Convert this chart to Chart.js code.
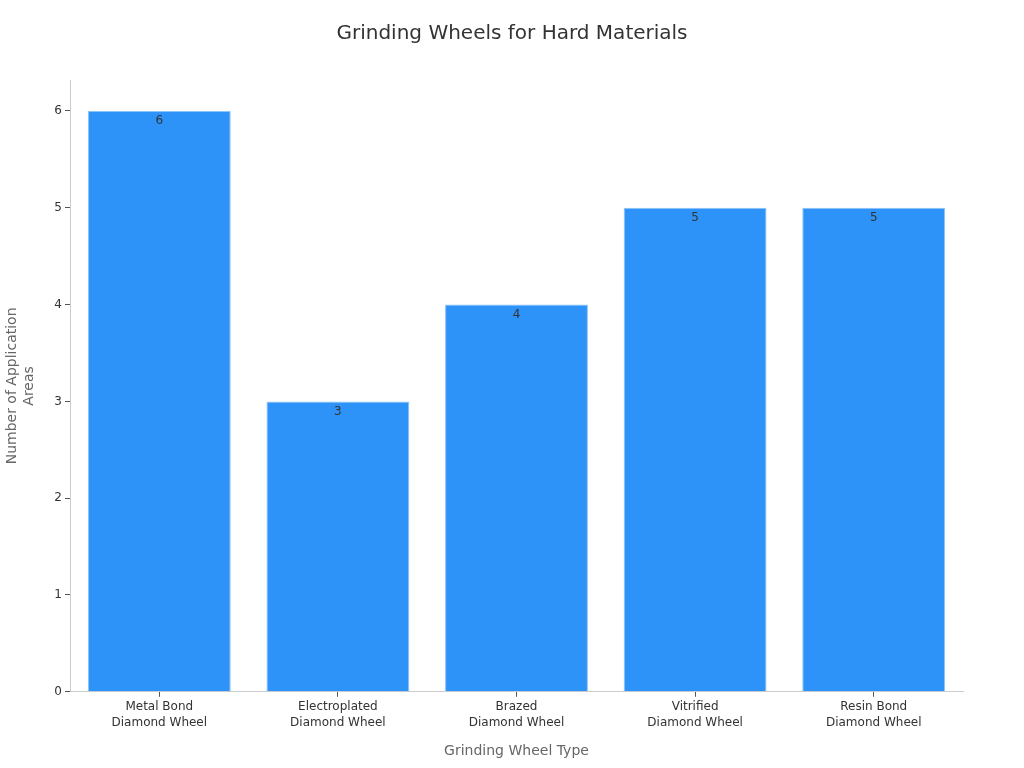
<!DOCTYPE html>
<html>
<head>
<meta charset="utf-8">
<script src="https://cdn.jsdelivr.net/npm/chart.js@4.4.0/dist/chart.umd.min.js"></script>
<style>
  html, body { margin: 0; padding: 0; background: #fff; }
  #wrap { width: 1024px; height: 768px; }
</style>
</head>
<body>
<div id="wrap"><canvas id="chart" width="1024" height="768"></canvas></div>
<script>
// data
const wheelTypes = [
  ['Metal Bond', 'Diamond Wheel'],
  ['Electroplated', 'Diamond Wheel'],
  ['Brazed', 'Diamond Wheel'],
  ['Vitrified', 'Diamond Wheel'],
  ['Resin Bond', 'Diamond Wheel']
];
const applicationAreas = [6, 3, 4, 5, 5];
const yTicks = [0, 1, 2, 3, 4, 5, 6];

const FONT = "'DejaVu Sans', sans-serif";

// value labels just inside the top of each bar
const barLabels = {
  id: 'barLabels',
  afterDatasetsDraw(chart) {
    const ctx = chart.ctx;
    const meta = chart.getDatasetMeta(0);
    ctx.save();
    ctx.font = '12px ' + FONT;
    ctx.fillStyle = '#333';
    ctx.textAlign = 'center';
    ctx.textBaseline = 'middle';
    meta.data.forEach((bar, i) => {
      ctx.fillText(String(applicationAreas[i]), bar.x, bar.y + 10);
    });
    ctx.restore();
  }
};

new Chart(document.getElementById('chart'), {
  type: 'bar',
  data: {
    labels: wheelTypes,
    datasets: [{
      data: applicationAreas,
      backgroundColor: '#2E93F8',
      borderColor: '#8EC3F7',
      borderWidth: 1,
      categoryPercentage: 0.8,
      barPercentage: 1.0
    }]
  },
  options: {
    responsive: false,
    animation: false,
    layout: { padding: { left: 0, right: 0, top: 10, bottom: 4 } },
    plugins: {
      legend: { display: false },
      tooltip: { enabled: false },
      title: {
        display: true,
        text: 'Grinding Wheels for Hard Materials',
        color: '#333',
        font: { family: FONT, size: 20, weight: 'normal' },
        padding: { top: 12, bottom: 34 }
      }
    },
    scales: {
      x: {
        grid: { display: true, drawOnChartArea: false, offset: false, tickLength: 5, color: '#555' },
        border: { color: '#ccc' },
        ticks: { color: '#333', font: { family: FONT, size: 12, lineHeight: 1.35 }, padding: 2, maxRotation: 0 },
        title: {
          display: true,
          text: 'Grinding Wheel Type',
          color: '#666',
          font: { family: FONT, size: 14 },
          padding: { top: 10 }
        }
      },
      y: {
        min: 0,
        max: 6.32,
        afterFit(axis) { axis.width = 70; },
        afterBuildTicks(axis) { axis.ticks = yTicks.map(v => ({ value: v })); },
        grid: { display: true, drawOnChartArea: false, tickLength: 5, color: '#555' },
        border: { color: '#ccc' },
        ticks: { color: '#333', font: { family: FONT, size: 12 }, padding: 3 },
        title: {
          display: true,
          text: ['Number of Application', 'Areas'],
          color: '#666',
          font: { family: FONT, size: 14, lineHeight: 1.2 },
          padding: { bottom: 10 }
        }
      },
      // empty axis on the right, only to keep the right margin
      yRight: {
        position: 'right',
        display: true,
        afterFit(axis) { axis.width = 61; },
        grid: { display: false },
        border: { display: false },
        ticks: { display: false }
      }
    }
  },
  plugins: [barLabels]
});
</script>
</body>
</html>
